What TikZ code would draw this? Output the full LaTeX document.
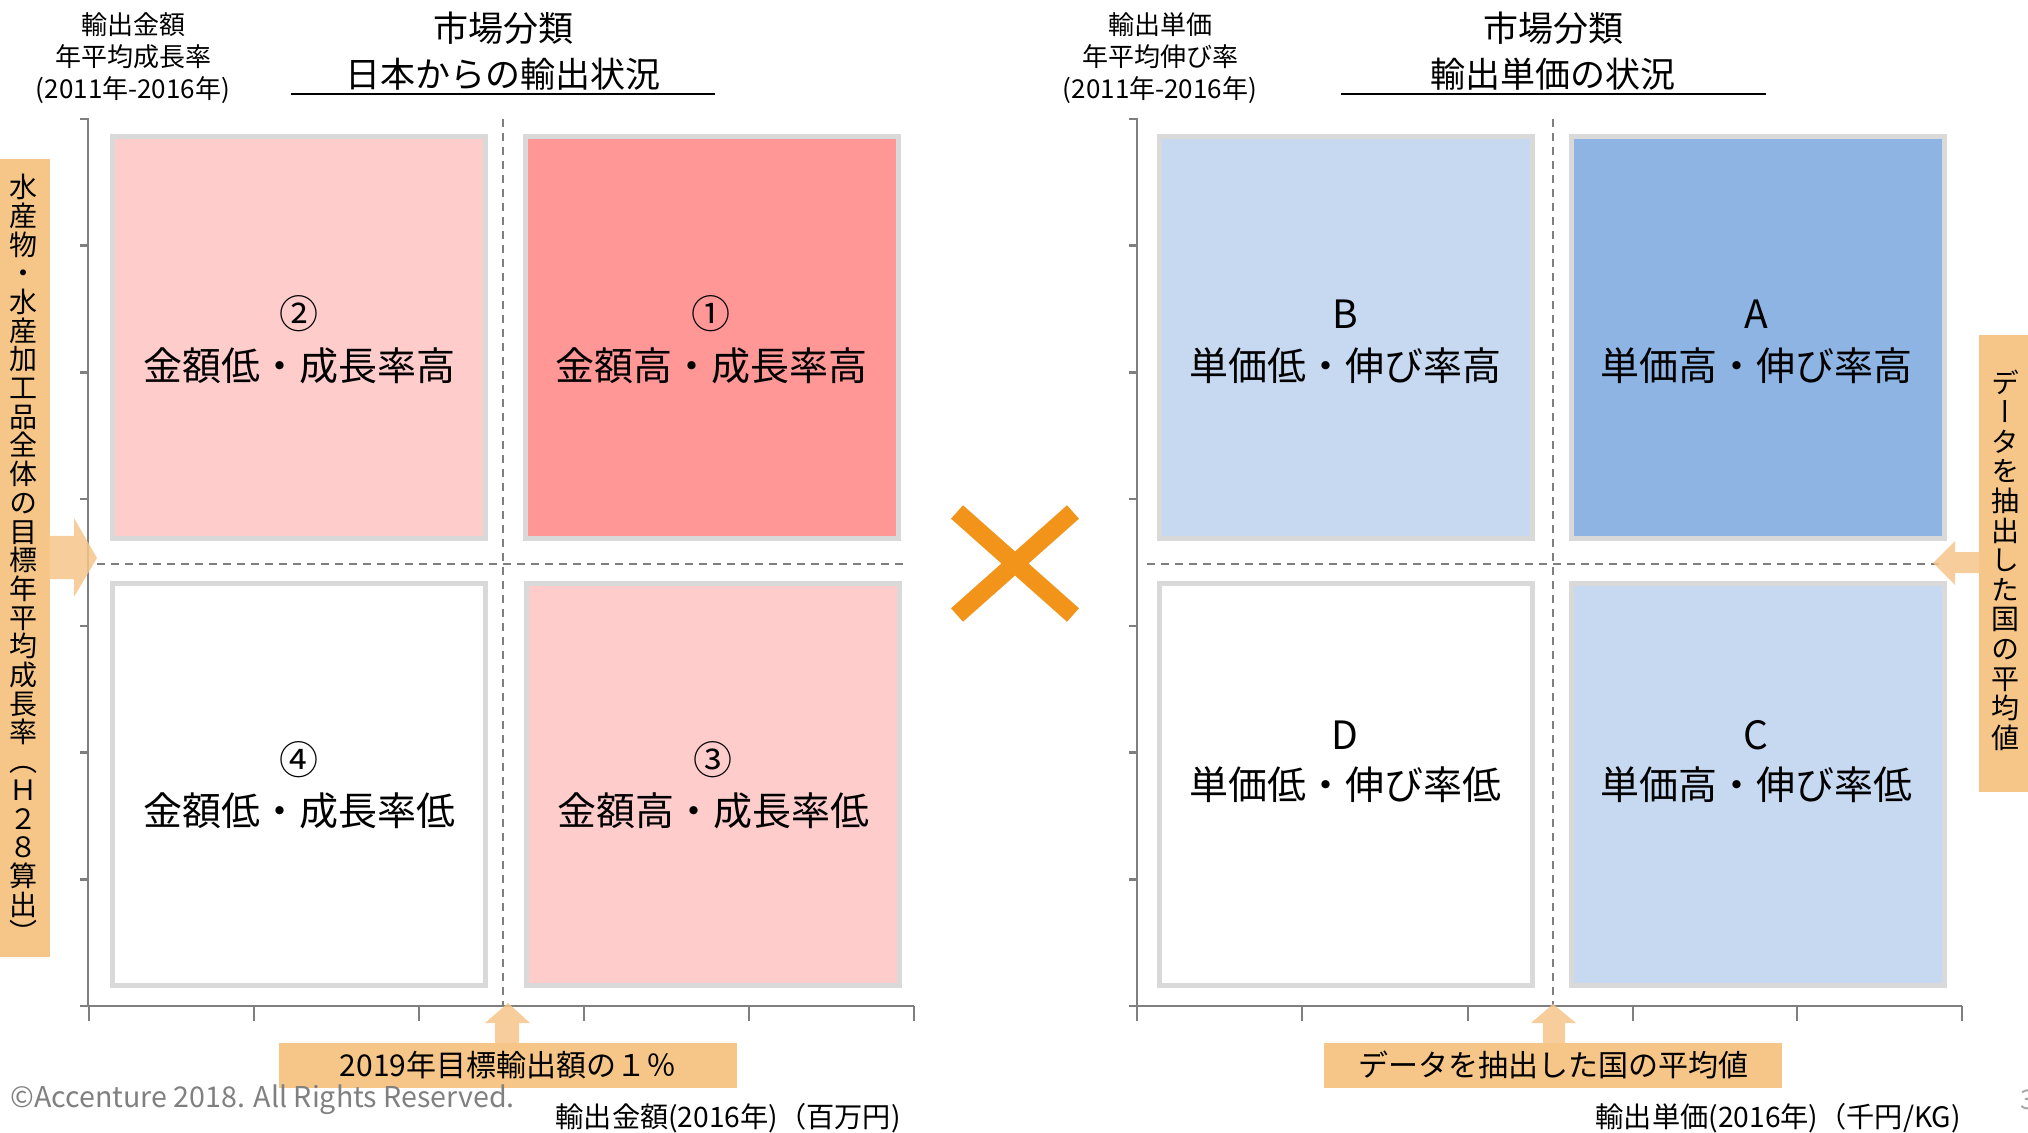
\documentclass[tikz,border=0pt]{standalone}
\usepackage{fontspec}
\usepackage{graphicx}
\setmainfont{Noto Sans CJK JP}
\newfontfamily\jpv[RawFeature=+vert]{Noto Sans CJK JP}
\definecolor{axisgray}{HTML}{7F7F7F}
\definecolor{bordergray}{HTML}{D9D9D9}
\definecolor{pinklight}{HTML}{FFCCCC}
\definecolor{pinkdark}{HTML}{FF9797}
\definecolor{bluelight}{HTML}{C6D9F1}
\definecolor{bluedark}{HTML}{8EB4E3}
\definecolor{orangebox}{HTML}{F6C689}
\definecolor{crossorange}{HTML}{F29419}
\definecolor{copygray}{HTML}{808080}
\definecolor{pagegray}{HTML}{A6A6A6}
\begin{document}
\begin{tikzpicture}[x=0.5pt,y=-0.5pt,
  axis/.style={draw=axisgray, line width=1.25pt},
  guide/.style={draw=axisgray, line width=1.2pt, dash pattern=on 4pt off 3pt},
  quadbox/.style={draw=bordergray, line width=2.5pt, minimum width=186.5pt, minimum height=201pt, inner sep=0pt},
  lbl/.style={font=\fontsize{19.5}{23}\selectfont, inner sep=0pt},
  ttl/.style={font=\fontsize{17.5}{21}\selectfont, inner sep=0pt},
  ylab/.style={font=\fontsize{13}{16}\selectfont, inner sep=0pt, align=center},
  banner/.style={fill=orangebox, inner sep=0pt},
  blockarrow/.style={fill=orangebox, fill opacity=0.85},
  bantext/.style={font=\fontsize{15}{18}\selectfont, inner sep=0pt},
  xlab/.style={font=\fontsize{14.1}{16}\selectfont, inner sep=0pt, anchor=east}
]
\useasboundingbox (0,0) rectangle (2028,1133);

% ---------- left chart ----------
\draw[axis] (80,119) -- (88,119) -- (88,1006) -- (914,1006);
\draw[axis] (80,1006) -- (88,1006);
\foreach \y in {245.7,372.4,499.1,625.9,752.6,879.3}
  \draw[axis] (80,\y) -- (88,\y);
\foreach \x in {89,254,419,584,749,914}
  \draw[axis] (\x,1006) -- (\x,1021);
\draw[guide] (503,119) -- (503,1006);
\draw[guide] (97,564) -- (905,564);

\node[quadbox, fill=pinklight] (q2) at (299,337.5) {};
\node[quadbox, fill=pinkdark] (q1) at (712,337.5) {};
\node[quadbox, fill=white] (q4) at (299,784) {};
\node[quadbox, fill=pinklight] (q3) at (713,784) {};

\node[lbl] (n2) at (299,314) {②};
\node[lbl] (t2) at (299,366) {金額低・成長率高};
\node[lbl] (n1) at (711,314) {①};
\node[lbl] (t1) at (711,366) {金額高・成長率高};
\node[lbl] (n4) at (299,760) {④};
\node[lbl] (t4) at (299,811) {金額低・成長率低};
\node[lbl] (n3) at (713,760) {③};
\node[lbl] (t3) at (713,811) {金額高・成長率低};

\node[ttl] (lt1) at (503,28.5) {市場分類};
\node[ttl] (lt2) at (503,74) {日本からの輸出状況};
\draw[line width=1pt] (291,94.5) -- (715,94.5);
\node[ylab] (lyl) at (133,58) {輸出金額\\年平均成長率\\(2011年-2016年)};

% left side banner
\node[banner, minimum width=25pt, minimum height=399pt] (lbox) at (25,558) {};
\node[font=\jpv\fontsize{14}{14.35}\selectfont, align=center, inner sep=0pt] (ltxt) at (24,559)
  {水\\産\\物\\・\\水\\産\\加\\工\\品\\全\\体\\の\\目\\標\\年\\平\\均\\成\\長\\率\\（\\Ｈ\\２\\８\\算\\出\\）};
\fill[blockarrow] (50,536) -- (74,536) -- (74,518) -- (97,558) -- (74,597) -- (74,579) -- (50,579) -- cycle;

% bottom left banner
\node[banner, minimum width=229pt, minimum height=22.5pt] (lban) at (508,1065.5) {};
\node[bantext] (lbt) at (508,1065) {2019年目標輸出額の１％};
\fill[blockarrow] (495,1043) -- (495,1023) -- (485,1023) -- (508,1003) -- (530,1023) -- (519,1023) -- (519,1043) -- cycle;

\node[xlab] (lxl) at (901,1118) {輸出金額(2016年)（百万円)};

% ---------- cross ----------
\draw[crossorange, line width=9pt] (957,512) -- (1073,615) (1073,512) -- (957,615);

% ---------- right chart ----------
\draw[axis] (1129,119) -- (1137,119) -- (1137,1006) -- (1962,1006);
\draw[axis] (1129,1006) -- (1137,1006);
\foreach \y in {245.7,372.4,499.1,625.9,752.6,879.3}
  \draw[axis] (1129,\y) -- (1137,\y);
\foreach \x in {1137,1302,1468,1633,1797,1962}
  \draw[axis] (\x,1006) -- (\x,1021);
\draw[guide] (1553,119) -- (1553,1006);
\draw[guide] (1147,564) -- (1940,564);

\node[quadbox, fill=bluelight] (qb) at (1345.5,337.5) {};
\node[quadbox, fill=bluedark] (qa) at (1757.5,337.5) {};
\node[quadbox, fill=white] (qd) at (1345.5,784) {};
\node[quadbox, fill=bluelight] (qc) at (1757.5,784) {};

\node[lbl] (nb) at (1345,314) {B};
\node[lbl] (tb) at (1345,366) {単価低・伸び率高};
\node[lbl] (na) at (1756,314) {A};
\node[lbl] (ta) at (1756,366) {単価高・伸び率高};
\node[lbl] (nd) at (1345,735) {D};
\node[lbl] (td) at (1345,785) {単価低・伸び率低};
\node[lbl] (nc) at (1756,735) {C};
\node[lbl] (tc) at (1756,785) {単価高・伸び率低};

\node[ttl] (rt1) at (1553,28.5) {市場分類};
\node[ttl] (rt2) at (1553,74) {輸出単価の状況};
\draw[line width=1pt] (1341,94.5) -- (1766,94.5);
\node[ylab] (ryl) at (1160,58) {輸出単価\\年平均伸び率\\(2011年-2016年)};

% right side banner
\node[banner, minimum width=24.5pt, minimum height=228.5pt] (rbox) at (2003.5,563.5) {};
\node[font=\jpv\fontsize{14}{14.8}\selectfont, align=center, inner sep=0pt] (rtxt) at (2005,560)
  {デ\\ー\\タ\\を\\抽\\出\\し\\た\\国\\の\\平\\均\\値};
\fill[blockarrow] (1979,552) -- (1955,552) -- (1955,541) -- (1933,563) -- (1955,585) -- (1955,573) -- (1979,573) -- cycle;

% bottom right banner
\node[banner, minimum width=229pt, minimum height=22.5pt] (rban) at (1553,1065.5) {};
\node[bantext] (rbt) at (1553,1065) {データを抽出した国の平均値};
\fill[blockarrow] (1543,1043) -- (1543,1023) -- (1531,1023) -- (1553,1004) -- (1576,1023) -- (1565,1023) -- (1565,1043) -- cycle;

\node[xlab] (rxl) at (1961,1118) {輸出単価(2016年)（千円/KG)};

% footer
\node[font=\fontsize{14.3}{16}\selectfont, text=copygray, anchor=west, inner sep=0pt] (copy) at (10,1100) {©Accenture 2018. All Rights Reserved.};
\node[font=\fontsize{13.5}{16}\selectfont, text=pagegray, anchor=west, inner sep=0pt] (pg) at (2020,1100) {3};
\end{tikzpicture}
\end{document}
